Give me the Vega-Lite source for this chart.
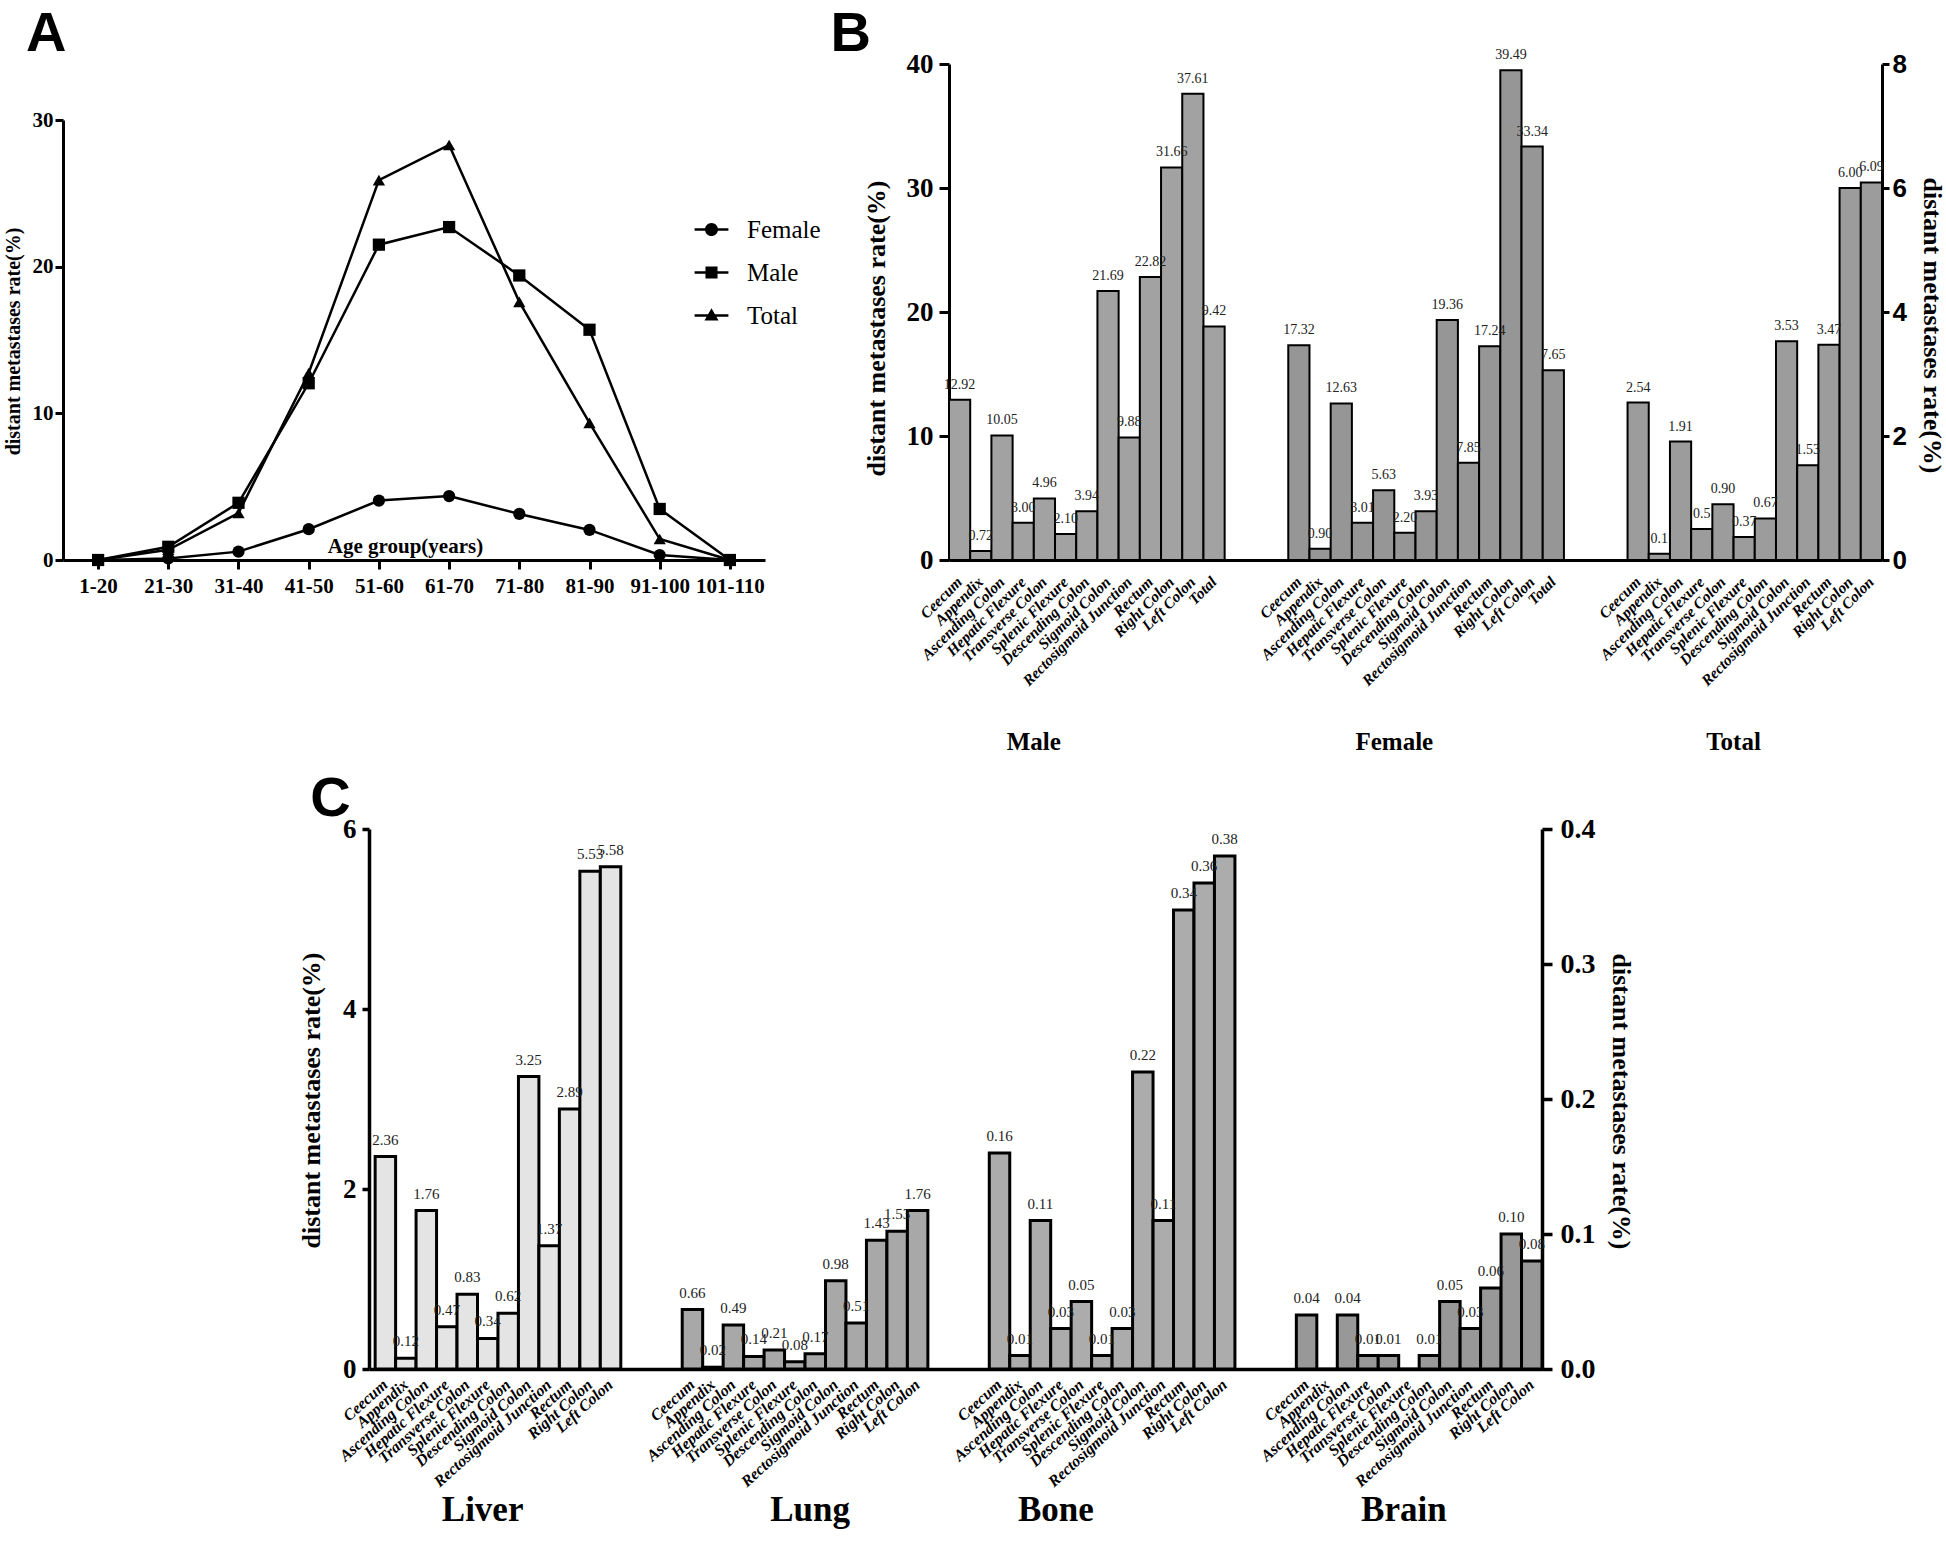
{
  "$schema": "https://vega.github.io/schema/vega-lite/v6.json",
  "width": 1946,
  "height": 1567,
  "autosize": {"type": "none"},
  "padding": 0,
  "background": "white",
  "config": {
    "view": {"stroke": null},
    "font": "Liberation Serif",
    "axis": {"grid": false, "domainColor": "black", "tickColor": "black", "labelColor": "black", "titleColor": "black", "labelFont": "Liberation Serif", "titleFont": "Liberation Serif", "labelFontWeight": "bold", "titleFontWeight": "bold"}
  },
  "datasets": {
    "age": [
      {"series": "Female", "age": "1-20", "rate": 0},
      {"series": "Female", "age": "21-30", "rate": 0.1},
      {"series": "Female", "age": "31-40", "rate": 0.57},
      {"series": "Female", "age": "41-50", "rate": 2.1},
      {"series": "Female", "age": "51-60", "rate": 4.05},
      {"series": "Female", "age": "61-70", "rate": 4.36},
      {"series": "Female", "age": "71-80", "rate": 3.14},
      {"series": "Female", "age": "81-90", "rate": 2.05},
      {"series": "Female", "age": "91-100", "rate": 0.34},
      {"series": "Female", "age": "101-110", "rate": 0},
      {"series": "Male", "age": "1-20", "rate": 0},
      {"series": "Male", "age": "21-30", "rate": 0.9},
      {"series": "Male", "age": "31-40", "rate": 3.9},
      {"series": "Male", "age": "41-50", "rate": 12.05},
      {"series": "Male", "age": "51-60", "rate": 21.5},
      {"series": "Male", "age": "61-70", "rate": 22.7},
      {"series": "Male", "age": "71-80", "rate": 19.4},
      {"series": "Male", "age": "81-90", "rate": 15.7},
      {"series": "Male", "age": "91-100", "rate": 3.48},
      {"series": "Male", "age": "101-110", "rate": 0},
      {"series": "Total", "age": "1-20", "rate": 0},
      {"series": "Total", "age": "21-30", "rate": 0.7},
      {"series": "Total", "age": "31-40", "rate": 3.2},
      {"series": "Total", "age": "41-50", "rate": 12.75},
      {"series": "Total", "age": "51-60", "rate": 25.9},
      {"series": "Total", "age": "61-70", "rate": 28.3},
      {"series": "Total", "age": "71-80", "rate": 17.6},
      {"series": "Total", "age": "81-90", "rate": 9.35},
      {"series": "Total", "age": "91-100", "rate": 1.43},
      {"series": "Total", "age": "101-110", "rate": 0}
    ],
    "bLeft": [
      {"group": "Male", "key": "Male|Ceecum", "rate": 12.92, "label": "12.92"},
      {"group": "Male", "key": "Male|Appendix", "rate": 0.72, "label": "0.72"},
      {"group": "Male", "key": "Male|Ascending Colon", "rate": 10.05, "label": "10.05"},
      {"group": "Male", "key": "Male|Hepatic Flexure", "rate": 3.0, "label": "3.00"},
      {"group": "Male", "key": "Male|Transverse Colon", "rate": 4.96, "label": "4.96"},
      {"group": "Male", "key": "Male|Splenic Flexure", "rate": 2.1, "label": "2.10"},
      {"group": "Male", "key": "Male|Descending Colon", "rate": 3.94, "label": "3.94"},
      {"group": "Male", "key": "Male|Sigmoid Colon", "rate": 21.69, "label": "21.69"},
      {"group": "Male", "key": "Male|Rectosigmoid Junction", "rate": 9.88, "label": "9.88"},
      {"group": "Male", "key": "Male|Rectum", "rate": 22.82, "label": "22.82"},
      {"group": "Male", "key": "Male|Right Colon", "rate": 31.66, "label": "31.66"},
      {"group": "Male", "key": "Male|Left Colon", "rate": 37.61, "label": "37.61"},
      {"group": "Male", "key": "Male|Total", "rate": 18.84, "label": "9.42"},
      {"group": "Female", "key": "Female|Ceecum", "rate": 17.32, "label": "17.32"},
      {"group": "Female", "key": "Female|Appendix", "rate": 0.9, "label": "0.90"},
      {"group": "Female", "key": "Female|Ascending Colon", "rate": 12.63, "label": "12.63"},
      {"group": "Female", "key": "Female|Hepatic Flexure", "rate": 3.01, "label": "3.01"},
      {"group": "Female", "key": "Female|Transverse Colon", "rate": 5.63, "label": "5.63"},
      {"group": "Female", "key": "Female|Splenic Flexure", "rate": 2.2, "label": "2.20"},
      {"group": "Female", "key": "Female|Descending Colon", "rate": 3.93, "label": "3.93"},
      {"group": "Female", "key": "Female|Sigmoid Colon", "rate": 19.36, "label": "19.36"},
      {"group": "Female", "key": "Female|Rectosigmoid Junction", "rate": 7.85, "label": "7.85"},
      {"group": "Female", "key": "Female|Rectum", "rate": 17.24, "label": "17.24"},
      {"group": "Female", "key": "Female|Right Colon", "rate": 39.49, "label": "39.49"},
      {"group": "Female", "key": "Female|Left Colon", "rate": 33.34, "label": "33.34"},
      {"group": "Female", "key": "Female|Total", "rate": 15.3, "label": "7.65"}
    ],
    "bRight": [
      {"group": "Total", "key": "Total|Ceecum", "rate": 2.54, "label": "2.54"},
      {"group": "Total", "key": "Total|Appendix", "rate": 0.1, "label": "0.1"},
      {"group": "Total", "key": "Total|Ascending Colon", "rate": 1.91, "label": "1.91"},
      {"group": "Total", "key": "Total|Hepatic Flexure", "rate": 0.5, "label": "0.5"},
      {"group": "Total", "key": "Total|Transverse Colon", "rate": 0.9, "label": "0.90"},
      {"group": "Total", "key": "Total|Splenic Flexure", "rate": 0.37, "label": "0.37"},
      {"group": "Total", "key": "Total|Descending Colon", "rate": 0.67, "label": "0.67"},
      {"group": "Total", "key": "Total|Sigmoid Colon", "rate": 3.53, "label": "3.53"},
      {"group": "Total", "key": "Total|Rectosigmoid Junction", "rate": 1.53, "label": "1.53"},
      {"group": "Total", "key": "Total|Rectum", "rate": 3.47, "label": "3.47"},
      {"group": "Total", "key": "Total|Right Colon", "rate": 6.0, "label": "6.00"},
      {"group": "Total", "key": "Total|Left Colon", "rate": 6.09, "label": "6.09"}
    ],
    "cLeft": [
      {"group": "Liver", "key": "Liver|Ceecum", "rate": 2.36, "label": "2.36"},
      {"group": "Liver", "key": "Liver|Appendix", "rate": 0.12, "label": "0.12"},
      {"group": "Liver", "key": "Liver|Ascending Colon", "rate": 1.76, "label": "1.76"},
      {"group": "Liver", "key": "Liver|Hepatic Flexure", "rate": 0.47, "label": "0.47"},
      {"group": "Liver", "key": "Liver|Transverse Colon", "rate": 0.83, "label": "0.83"},
      {"group": "Liver", "key": "Liver|Splenic Flexure", "rate": 0.34, "label": "0.34"},
      {"group": "Liver", "key": "Liver|Descending Colon", "rate": 0.62, "label": "0.62"},
      {"group": "Liver", "key": "Liver|Sigmoid Colon", "rate": 3.25, "label": "3.25"},
      {"group": "Liver", "key": "Liver|Rectosigmoid Junction", "rate": 1.37, "label": "1.37"},
      {"group": "Liver", "key": "Liver|Rectum", "rate": 2.89, "label": "2.89"},
      {"group": "Liver", "key": "Liver|Right Colon", "rate": 5.53, "label": "5.53"},
      {"group": "Liver", "key": "Liver|Left Colon", "rate": 5.58, "label": "5.58"},
      {"group": "Lung", "key": "Lung|Ceecum", "rate": 0.66, "label": "0.66"},
      {"group": "Lung", "key": "Lung|Appendix", "rate": 0.02, "label": "0.02"},
      {"group": "Lung", "key": "Lung|Ascending Colon", "rate": 0.49, "label": "0.49"},
      {"group": "Lung", "key": "Lung|Hepatic Flexure", "rate": 0.14, "label": "0.14"},
      {"group": "Lung", "key": "Lung|Transverse Colon", "rate": 0.21, "label": "0.21"},
      {"group": "Lung", "key": "Lung|Splenic Flexure", "rate": 0.08, "label": "0.08"},
      {"group": "Lung", "key": "Lung|Descending Colon", "rate": 0.17, "label": "0.17"},
      {"group": "Lung", "key": "Lung|Sigmoid Colon", "rate": 0.98, "label": "0.98"},
      {"group": "Lung", "key": "Lung|Rectosigmoid Junction", "rate": 0.51, "label": "0.51"},
      {"group": "Lung", "key": "Lung|Rectum", "rate": 1.43, "label": "1.43"},
      {"group": "Lung", "key": "Lung|Right Colon", "rate": 1.53, "label": "1.53"},
      {"group": "Lung", "key": "Lung|Left Colon", "rate": 1.76, "label": "1.76"}
    ],
    "cRight": [
      {"group": "Bone", "key": "Bone|Ceecum", "rate": 0.16, "label": "0.16"},
      {"group": "Bone", "key": "Bone|Appendix", "rate": 0.01, "label": "0.01"},
      {"group": "Bone", "key": "Bone|Ascending Colon", "rate": 0.11, "label": "0.11"},
      {"group": "Bone", "key": "Bone|Hepatic Flexure", "rate": 0.03, "label": "0.03"},
      {"group": "Bone", "key": "Bone|Transverse Colon", "rate": 0.05, "label": "0.05"},
      {"group": "Bone", "key": "Bone|Splenic Flexure", "rate": 0.01, "label": "0.01"},
      {"group": "Bone", "key": "Bone|Descending Colon", "rate": 0.03, "label": "0.03"},
      {"group": "Bone", "key": "Bone|Sigmoid Colon", "rate": 0.22, "label": "0.22"},
      {"group": "Bone", "key": "Bone|Rectosigmoid Junction", "rate": 0.11, "label": "0.11"},
      {"group": "Bone", "key": "Bone|Rectum", "rate": 0.34, "label": "0.34"},
      {"group": "Bone", "key": "Bone|Right Colon", "rate": 0.36, "label": "0.36"},
      {"group": "Bone", "key": "Bone|Left Colon", "rate": 0.38, "label": "0.38"},
      {"group": "Brain", "key": "Brain|Ceecum", "rate": 0.04, "label": "0.04"},
      {"group": "Brain", "key": "Brain|Appendix", "rate": 0, "label": ""},
      {"group": "Brain", "key": "Brain|Ascending Colon", "rate": 0.04, "label": "0.04"},
      {"group": "Brain", "key": "Brain|Hepatic Flexure", "rate": 0.01, "label": "0.01"},
      {"group": "Brain", "key": "Brain|Transverse Colon", "rate": 0.01, "label": "0.01"},
      {"group": "Brain", "key": "Brain|Splenic Flexure", "rate": 0, "label": ""},
      {"group": "Brain", "key": "Brain|Descending Colon", "rate": 0.01, "label": "0.01"},
      {"group": "Brain", "key": "Brain|Sigmoid Colon", "rate": 0.05, "label": "0.05"},
      {"group": "Brain", "key": "Brain|Rectosigmoid Junction", "rate": 0.03, "label": "0.03"},
      {"group": "Brain", "key": "Brain|Rectum", "rate": 0.06, "label": "0.06"},
      {"group": "Brain", "key": "Brain|Right Colon", "rate": 0.1, "label": "0.10"},
      {"group": "Brain", "key": "Brain|Left Colon", "rate": 0.08, "label": "0.08"}
    ]
  },
  "layer": [
    {
      "layer": [
        {"data": {"name": "age"},
          "mark": {"type": "line", "color": "black", "strokeWidth": 2.5},
          "encoding": {
            "x": {"field": "age", "type": "ordinal", "title": "Age group(years)",
              "scale": {"type": "point", "domain": ["1-20", "21-30", "31-40", "41-50", "51-60", "61-70", "71-80", "81-90", "91-100", "101-110"], "range": [63, 765], "padding": 0.5},
              "axis": {"orient": "bottom", "offset": -1007, "titleX": 405, "titleY": -14, "titleBaseline": "middle", "titleFontSize": 21, "labelFontSize": 21, "labelAngle": 0, "labelPadding": 6, "tickSize": 9, "tickWidth": 3, "domainWidth": 3}},
            "y": {"field": "rate", "type": "quantitative", "title": "distant metastases rate(%)",
              "scale": {"domain": [0, 30], "range": [560, 120]},
              "axis": {"orient": "left", "offset": -63, "values": [0, 10, 20, 30], "titleX": -50, "titleY": 341, "titleAngle": 270, "titleBaseline": "middle", "titleFontSize": 20, "labelFontSize": 21, "labelPadding": 2, "tickSize": 8, "tickWidth": 3, "domainWidth": 3}},
            "detail": {"field": "series"}
          }},
        {"data": {"name": "age"},
          "mark": {"type": "point", "filled": true, "color": "black", "opacity": 1, "size": 150},
          "encoding": {
            "x": {"field": "age", "type": "ordinal", "title": "Age group(years)"},
            "y": {"field": "rate", "type": "quantitative", "title": "distant metastases rate(%)"},
            "shape": {"field": "series", "type": "nominal",
              "scale": {"domain": ["Female", "Male", "Total"], "range": ["circle", "square", "triangle-up"]},
              "legend": null}}},
        {"data": {"values": []},
          "mark": {"type": "point", "filled": true, "color": "black", "opacity": 1},
          "encoding": {
            "x": {"field": "age", "type": "ordinal", "title": "Age group(years)"},
            "y": {"field": "rate", "type": "quantitative", "title": "distant metastases rate(%)"},
            "shape": {"field": "series", "type": "nominal",
              "scale": {"domain": ["Female", "Male", "Total"], "range": ["M-1.01,-0.075H1.01V0.075H-1.01ZM0.39,0A0.39,0.39,0,1,1,-0.39,0A0.39,0.39,0,1,1,0.39,0Z", "M-1.01,-0.075H1.01V0.075H-1.01ZM-0.36,-0.36H0.36V0.36H-0.36Z", "M-1.01,-0.075H1.01V0.075H-1.01ZM0,-0.43L0.42,0.3H-0.42Z"]},
              "legend": {"orient": "none", "legendX": 694, "legendY": 212, "title": null, "padding": 0, "rowPadding": 12,
                "symbolSize": 1122, "symbolFillColor": "black", "symbolOpacity": 1,
                "labelFont": "Liberation Serif", "labelFontSize": 25, "labelColor": "black", "labelOffset": 18}}}},
        {"data": {"values": [{"t": "A"}]},
          "mark": {"type": "text", "font": "Liberation Sans", "fontWeight": "bold", "fontSize": 56, "dx": -52, "baseline": "alphabetic", "align": "center", "color": "black"},
          "encoding": {"x": {"datum": "1-20", "type": "ordinal"}, "y": {"datum": 34.7, "type": "quantitative"}, "text": {"field": "t"}}}
      ],
      "resolve": {"scale": {"shape": "independent"}}
    },
    {
      "layer": [
        {
          "data": {"name": "bLeft"},
          "layer": [
            {"mark": {"type": "bar", "stroke": "black", "strokeWidth": 2},
              "encoding": {
                "x": {"field": "key", "type": "nominal", "sort": null, "title": null,
                  "scale": {"type": "band", "domain": ["Male|Ceecum", "Male|Appendix", "Male|Ascending Colon", "Male|Hepatic Flexure", "Male|Transverse Colon", "Male|Splenic Flexure", "Male|Descending Colon", "Male|Sigmoid Colon", "Male|Rectosigmoid Junction", "Male|Rectum", "Male|Right Colon", "Male|Left Colon", "Male|Total", "bg1", "bg2", "bg3", "Female|Ceecum", "Female|Appendix", "Female|Ascending Colon", "Female|Hepatic Flexure", "Female|Transverse Colon", "Female|Splenic Flexure", "Female|Descending Colon", "Female|Sigmoid Colon", "Female|Rectosigmoid Junction", "Female|Rectum", "Female|Right Colon", "Female|Left Colon", "Female|Total", "bg4", "bg5", "bg6", "Total|Ceecum", "Total|Appendix", "Total|Ascending Colon", "Total|Hepatic Flexure", "Total|Transverse Colon", "Total|Splenic Flexure", "Total|Descending Colon", "Total|Sigmoid Colon", "Total|Rectosigmoid Junction", "Total|Rectum", "Total|Right Colon", "Total|Left Colon"], "range": [949, 1882], "paddingInner": 0, "paddingOuter": 0},
                  "axis": {"orient": "bottom", "offset": -1007, "ticks": false, "domainWidth": 3, "labelAngle": -45, "labelAlign": "right", "labelBaseline": "middle", "labelFontSize": 15.5, "labelFontStyle": "italic", "labelPadding": 19, "labelOverlap": false, "labelLimit": 0, "labelExpr": "indexof(datum.label, '|') > 0 ? split(datum.label, '|')[1] : ''"}},
                "y": {"field": "rate", "type": "quantitative", "title": "distant metastases rate(%)",
                  "scale": {"domain": [0, 40], "range": [560, 64]},
                  "axis": {"orient": "left", "offset": -949, "values": [0, 10, 20, 30, 40], "format": "d", "titleX": -73, "titleY": 328, "titleAngle": 270, "titleBaseline": "middle", "titleFontSize": 26, "labelFontSize": 27, "labelPadding": 6, "tickSize": 10, "tickWidth": 3, "domainWidth": 3}},
                "fill": {"field": "group", "type": "nominal", "scale": {"domain": ["Male", "Female", "Total", "Liver", "Lung", "Bone", "Brain"], "range": ["#a2a2a2", "#969696", "#9c9c9c", "#e4e4e4", "#a8a8a8", "#acacac", "#989898"]}, "legend": null}
              }},
            {"mark": {"type": "text", "fontSize": 14, "dy": -15, "baseline": "middle", "color": "#222222"},
              "encoding": {"x": {"field": "key", "type": "nominal", "title": null}, "y": {"field": "rate", "type": "quantitative"}, "text": {"field": "label"}}},
            {"data": {"values": [{"key": "Male|Transverse Colon", "name": "Male"}, {"key": "Female|Splenic Flexure", "name": "Female"}, {"key": "Total|Splenic Flexure", "name": "Total"}]},
              "mark": {"type": "text", "fontSize": 25, "fontWeight": "bold", "baseline": "middle", "color": "black"},
              "encoding": {"x": {"field": "key", "type": "nominal", "title": null, "bandPosition": 0}, "y": {"datum": -14.68}, "text": {"field": "name"}}},
            {"data": {"values": [{"t": "B"}]},
              "mark": {"type": "text", "font": "Liberation Sans", "fontWeight": "bold", "fontSize": 56, "dx": -109, "baseline": "alphabetic", "align": "center", "color": "black"},
              "encoding": {"x": {"datum": "Male|Ceecum"}, "y": {"datum": 41.05}, "text": {"field": "t"}}}
          ]
        },
        {
          "data": {"name": "bRight"},
          "layer": [
            {"mark": {"type": "bar", "stroke": "black", "strokeWidth": 2},
              "encoding": {
                "x": {"field": "key", "type": "nominal", "title": null},
                "y": {"field": "rate", "type": "quantitative", "title": "distant metastases rate(%)",
                  "scale": {"domain": [0, 8], "range": [560, 64]},
                  "axis": {"orient": "right", "offset": -64, "values": [0, 2, 4, 6, 8], "format": "d", "titleX": 49, "titleY": 325, "titleAngle": 90, "titleBaseline": "middle", "titleFontSize": 26, "labelFont": "Liberation Sans", "labelFontSize": 26, "labelPadding": 3, "tickSize": 7, "tickWidth": 3, "domainWidth": 3}},
                "fill": {"field": "group", "type": "nominal", "legend": null}
              }},
            {"mark": {"type": "text", "fontSize": 14, "dy": -15, "baseline": "middle", "color": "#222222"},
              "encoding": {"x": {"field": "key", "type": "nominal", "title": null}, "y": {"field": "rate", "type": "quantitative"}, "text": {"field": "label"}}}
          ]
        }
      ],
      "resolve": {"scale": {"y": "independent"}}
    },
    {
      "layer": [
        {
          "data": {"name": "cLeft"},
          "layer": [
            {"mark": {"type": "bar", "stroke": "black", "strokeWidth": 3},
              "encoding": {
                "x": {"field": "key", "type": "nominal", "sort": null, "title": null,
                  "scale": {"type": "band", "domain": ["Liver|Ceecum", "Liver|Appendix", "Liver|Ascending Colon", "Liver|Hepatic Flexure", "Liver|Transverse Colon", "Liver|Splenic Flexure", "Liver|Descending Colon", "Liver|Sigmoid Colon", "Liver|Rectosigmoid Junction", "Liver|Rectum", "Liver|Right Colon", "Liver|Left Colon", "cg1", "cg2", "cg3", "Lung|Ceecum", "Lung|Appendix", "Lung|Ascending Colon", "Lung|Hepatic Flexure", "Lung|Transverse Colon", "Lung|Splenic Flexure", "Lung|Descending Colon", "Lung|Sigmoid Colon", "Lung|Rectosigmoid Junction", "Lung|Rectum", "Lung|Right Colon", "Lung|Left Colon", "cg4", "cg5", "cg6", "Bone|Ceecum", "Bone|Appendix", "Bone|Ascending Colon", "Bone|Hepatic Flexure", "Bone|Transverse Colon", "Bone|Splenic Flexure", "Bone|Descending Colon", "Bone|Sigmoid Colon", "Bone|Rectosigmoid Junction", "Bone|Rectum", "Bone|Right Colon", "Bone|Left Colon", "cg7", "cg8", "cg9", "Brain|Ceecum", "Brain|Appendix", "Brain|Ascending Colon", "Brain|Hepatic Flexure", "Brain|Transverse Colon", "Brain|Splenic Flexure", "Brain|Descending Colon", "Brain|Sigmoid Colon", "Brain|Rectosigmoid Junction", "Brain|Rectum", "Brain|Right Colon", "Brain|Left Colon"], "range": [369, 1542], "paddingInner": 0, "paddingOuter": 0.15, "align": 1},
                  "axis": {"orient": "bottom", "offset": -198, "ticks": false, "domainWidth": 3.5, "labelAngle": -42, "labelAlign": "right", "labelBaseline": "middle", "labelFontSize": 16, "labelFontStyle": "italic", "labelPadding": 13, "labelOverlap": false, "labelLimit": 0, "labelExpr": "indexof(datum.label, '|') > 0 ? split(datum.label, '|')[1] : ''"}},
                "y": {"field": "rate", "type": "quantitative", "title": "distant metastases rate(%)",
                  "scale": {"domain": [0, 6], "range": [1369, 829]},
                  "axis": {"orient": "left", "offset": -369, "values": [0, 2, 4, 6], "format": "d", "titleX": -58, "titleY": 1100, "titleAngle": 270, "titleBaseline": "middle", "titleFontSize": 26, "labelFontSize": 27, "labelPadding": 6, "tickSize": 7, "tickWidth": 3.5, "domainWidth": 3.5}},
                "fill": {"field": "group", "type": "nominal", "legend": null}
              }},
            {"mark": {"type": "text", "fontSize": 15, "dy": -17, "baseline": "middle", "color": "#222222"},
              "encoding": {"x": {"field": "key", "type": "nominal", "title": null}, "y": {"field": "rate", "type": "quantitative"}, "text": {"field": "label"}}},
            {"data": {"values": [{"key": "Liver|Splenic Flexure", "name": "Liver"}, {"key": "Lung|Descending Colon", "name": "Lung"}, {"key": "Bone|Hepatic Flexure", "name": "Bone"}, {"key": "Brain|Splenic Flexure", "name": "Brain"}]},
              "mark": {"type": "text", "fontSize": 35, "fontWeight": "bold", "baseline": "middle", "color": "black"},
              "encoding": {"x": {"field": "key", "type": "nominal", "title": null, "bandPosition": 0.25}, "y": {"datum": -1.57}, "text": {"field": "name"}}},
            {"data": {"values": [{"t": "C"}]},
              "mark": {"type": "text", "font": "Liberation Sans", "fontWeight": "bold", "fontSize": 56, "dx": -55, "baseline": "alphabetic", "align": "center", "color": "black"},
              "encoding": {"x": {"datum": "Liver|Ceecum"}, "y": {"datum": 6.14}, "text": {"field": "t"}}}
          ]
        },
        {
          "data": {"name": "cRight"},
          "layer": [
            {"mark": {"type": "bar", "stroke": "black", "strokeWidth": 3},
              "encoding": {
                "x": {"field": "key", "type": "nominal", "title": null},
                "y": {"field": "rate", "type": "quantitative", "title": "distant metastases rate(%)",
                  "scale": {"domain": [0, 0.4], "range": [1369, 829]},
                  "axis": {"orient": "right", "offset": -404, "values": [0, 0.1, 0.2, 0.3, 0.4], "format": ".1f", "titleX": 78, "titleY": 1101, "titleAngle": 90, "titleBaseline": "middle", "titleFontSize": 26, "labelFontSize": 28, "labelPadding": 8, "tickSize": 10, "tickWidth": 3.5, "domainWidth": 3.5}},
                "fill": {"field": "group", "type": "nominal", "legend": null}
              }},
            {"mark": {"type": "text", "fontSize": 15, "dy": -17, "baseline": "middle", "color": "#222222"},
              "encoding": {"x": {"field": "key", "type": "nominal", "title": null}, "y": {"field": "rate", "type": "quantitative"}, "text": {"field": "label"}}}
          ]
        }
      ],
      "resolve": {"scale": {"y": "independent"}}
    }
  ],
  "resolve": {"scale": {"x": "independent", "y": "independent"}}
}
